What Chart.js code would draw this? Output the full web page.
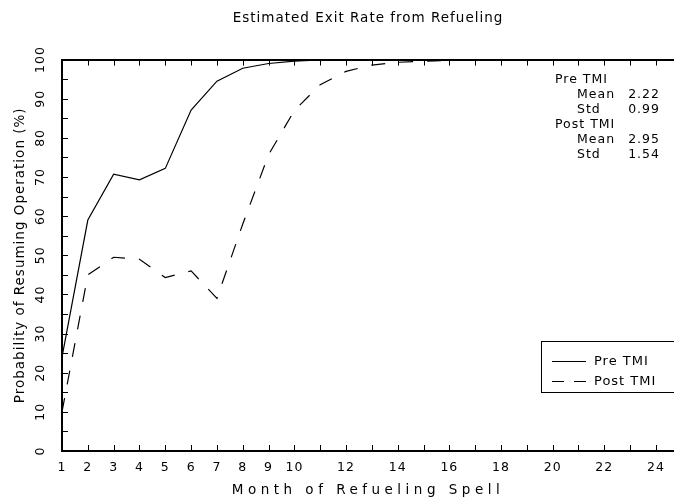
<!DOCTYPE html>
<html>
<head>
<meta charset="utf-8">
<script src="https://cdn.jsdelivr.net/npm/chart.js@4/dist/chart.umd.min.js"></script>
<style>
  html, body { margin: 0; padding: 0; background: #fff; overflow: hidden; }
  #wrap { width: 674px; height: 502px; position: relative; }
</style>
</head>
<body>
<div id="wrap"><canvas id="c" width="674" height="502"></canvas></div>
<script>
// ---- data ----
const months = [1,2,3,4,5,6,7,8,9,10,11,12,13,14,15,16,17,18,19,20,21,22,23,24];
const preTMI  = [24, 59, 70.7, 69.3, 72.2, 87.1, 94.5, 97.8, 99.0, 99.6, 99.9, 100, 100, 100, 100, 100, 100, 100, 100, 100, 100, 100, 100, 100];
const postTMI = [10, 45, 49.5, 49, 44.3, 46, 39, 58, 75.7, 87, 93.6, 97, 98.6, 99.3, 99.6, 99.8, 99.9, 100, 100, 100, 100, 100, 100, 100];
const seriesNames = ['Pre TMI', 'Post TMI'];
const xTickValues = [1,2,3,4,5,6,7,8,9,10,11,12,13,14,15,16,17,18,19,20,21,22,23,24];
const xTickLabels = [1,2,3,4,5,6,7,8,9,10,12,14,16,18,20,22,24];
const yTickValues = [0,5,10,15,20,25,30,35,40,45,50,55,60,65,70,75,80,85,90,95,100];
const yTickLabels = [0,10,20,30,40,50,60,70,80,90,100];
const titleText = 'Estimated Exit Rate from Refueling';
const xTitle = 'Month of Refueling Spell';
const yTitle = 'Probability of Resuming Operation (%)';
const statsLines = [
  ['Pre TMI', ''],
  ['Mean', '2.22'],
  ['Std', '0.99'],
  ['Post TMI', ''],
  ['Mean', '2.95'],
  ['Std', '1.54']
];

const FONT = 'DejaVu Sans';

function setSpacing(chart) { try { chart.ctx.letterSpacing = '1px'; } catch (e) {} }

const spacingPlugin = {
  id: 'spacing',
  beforeUpdate: setSpacing,
  beforeLayout: setSpacing,
  beforeDraw: setSpacing
};

const innerTicks = {
  id: 'innerTicks',
  afterDraw(chart) {
    const ctx = chart.ctx;
    const x = chart.scales.x, y = chart.scales.y;
    const a = chart.chartArea;
    ctx.save();
    ctx.strokeStyle = '#000';
    ctx.lineWidth = 1;
    ctx.beginPath();
    x.ticks.forEach(t => {
      const px = Math.round(x.getPixelForValue(t.value)) + 0.5;
      ctx.moveTo(px, a.bottom); ctx.lineTo(px, a.bottom - 6);
      ctx.moveTo(px, a.top); ctx.lineTo(px, a.top + 6);
    });
    y.ticks.forEach(t => {
      const py = Math.round(y.getPixelForValue(t.value)) + 0.5;
      ctx.moveTo(a.left, py); ctx.lineTo(a.left + 6, py);
    });
    ctx.stroke();
    ctx.restore();
  }
};

const statsPlugin = {
  id: 'stats',
  afterDraw(chart) {
    const ctx = chart.ctx;
    ctx.save();
    ctx.fillStyle = '#000';
    ctx.font = '12.5px "' + FONT + '"';
    ctx.textBaseline = 'middle';
    statsLines.forEach((row, i) => {
      const yy = 79.5 + i * 15;
      if (row[1] === '') {
        ctx.textAlign = 'left';
        ctx.fillText(row[0], 555, yy);
      } else {
        ctx.textAlign = 'left';
        ctx.fillText(row[0], 577, yy);
        ctx.textAlign = 'right';
        ctx.fillText(row[1], 660, yy);
      }
    });
    ctx.restore();
  }
};

const legendBox = {
  id: 'legendBox',
  afterDraw(chart) {
    const ctx = chart.ctx;
    ctx.save();
    ctx.strokeStyle = '#000';
    ctx.lineWidth = 1;
    ctx.strokeRect(541.5, 341.5, 150, 51);
    ctx.font = '13px "' + FONT + '"';
    ctx.textBaseline = 'middle';
    ctx.textAlign = 'left';
    ctx.fillStyle = '#000';
    chart.data.datasets.forEach((ds, i) => {
      const yy = 361.5 + i * 20;
      ctx.setLineDash(ds.borderDash ? [12, 10] : []);
      ctx.lineWidth = ds.borderWidth;
      ctx.beginPath();
      ctx.moveTo(552, yy); ctx.lineTo(586, yy);
      ctx.stroke();
      ctx.setLineDash([]);
      ctx.fillText(ds.label, 594, yy);
    });
    ctx.restore();
  }
};

new Chart(document.getElementById('c'), {
  type: 'line',
  data: {
    datasets: [
      {
        label: seriesNames[0],
        data: months.map((m, i) => ({x: m, y: preTMI[i]})),
        borderColor: '#000',
        borderWidth: 1.2,
        pointRadius: 0,
        tension: 0,
        fill: false
      },
      {
        label: seriesNames[1],
        data: months.map((m, i) => ({x: m, y: postTMI[i]})),
        borderColor: '#000',
        borderWidth: 1.2,
        borderDash: [14, 14],
        pointRadius: 0,
        tension: 0,
        fill: false
      }
    ]
  },
  options: {
    responsive: false,
    animation: false,
    devicePixelRatio: 1,
    layout: { padding: 0 },
    plugins: {
      legend: { display: false },
      tooltip: { enabled: false },
      title: {
        display: true,
        text: titleText,
        fullSize: false,
        color: '#000',
        font: { family: FONT, size: 13.5, weight: 'normal', lineHeight: 1.2 },
        padding: { top: 10, bottom: 0 }
      }
    },
    scales: {
      x: {
        type: 'linear',
        position: 'bottom',
        min: 1,
        max: 24.7,
        afterBuildTicks(scale) { scale.ticks = xTickValues.map(v => ({value: v})); },
        afterFit(scale) {
          scale.height = 51;
          if (!scale._wrappedTitle) {
            const orig = scale.drawTitle.bind(scale);
            scale.drawTitle = function () {
              const ctx = scale.ctx;
              ctx.letterSpacing = '4.5px';
              orig();
              ctx.letterSpacing = '1px';
            };
            scale._wrappedTitle = true;
          }
        },
        grid: { display: false, drawTicks: false },
        border: { display: true, color: '#000', width: 2 },
        ticks: {
          autoSkip: false,
          maxRotation: 0,
          color: '#000',
          padding: 9,
          font: { family: FONT, size: 12.5 },
          callback(v) { return xTickLabels.includes(v) ? String(v) : ''; }
        },
        title: {
          display: true,
          text: xTitle,
          color: '#000',
          font: { family: FONT, size: 13.5, lineHeight: 1.2 },
          padding: { top: 0, bottom: 3 }
        }
      },
      x2: {
        type: 'linear',
        position: 'top',
        min: 1,
        max: 24.7,
        afterFit(scale) { scale.height = 33.4; },
        grid: { display: false, drawTicks: false },
        border: { display: true, color: '#000', width: 2 },
        ticks: { display: false }
      },
      y: {
        type: 'linear',
        position: 'left',
        min: 0,
        max: 100,
        afterBuildTicks(scale) { scale.ticks = yTickValues.map(v => ({value: v})); },
        afterFit(scale) { scale.width = 62; },
        grid: { display: false, drawTicks: false },
        border: { display: true, color: '#000', width: 2 },
        ticks: {
          autoSkip: false,
          minRotation: 90,
          maxRotation: 90,
          crossAlign: 'center',
          color: '#000',
          padding: 8,
          font: { family: FONT, size: 12.5 },
          callback(v) { return yTickLabels.includes(v) ? String(v) : ''; }
        },
        title: {
          display: true,
          text: yTitle,
          color: '#000',
          font: { family: FONT, size: 13.5, lineHeight: 1.2 },
          padding: { top: 12, bottom: 0 }
        }
      }
    }
  },
  plugins: [spacingPlugin, innerTicks, statsPlugin, legendBox]
});
</script>
</body>
</html>
